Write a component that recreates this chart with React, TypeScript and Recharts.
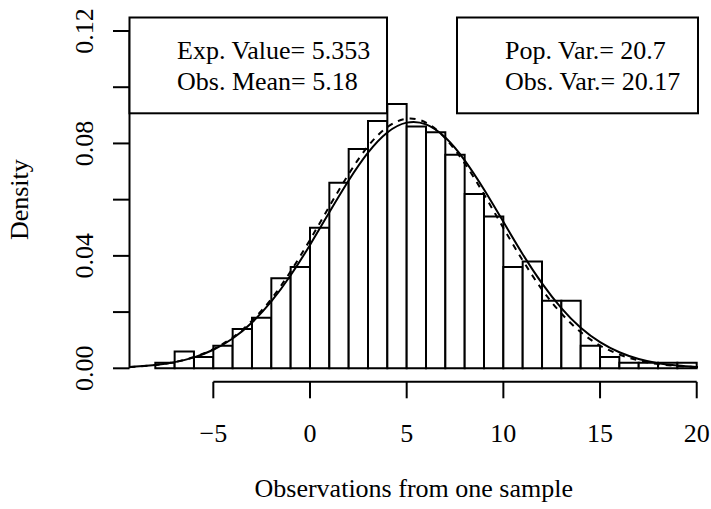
import { ComposedChart, Bar, Line, XAxis, YAxis, ReferenceLine } from 'recharts';

// histogram bins (left edge, width 1) and their densities
const binStarts = [-8, -7, -6, -5, -4, -3, -2, -1, 0, 1, 2, 3, 4, 5, 6, 7, 8, 9, 10, 11, 12, 13, 14, 15, 16, 17, 18, 19];
const densities = [
  0.002, 0.006, 0.004, 0.008, 0.014, 0.018, 0.032, 0.036, 0.05, 0.066, 0.078, 0.088, 0.094, 0.086,
  0.084, 0.076, 0.062, 0.054, 0.036, 0.038, 0.024, 0.024, 0.008, 0.004, 0.002, 0.002, 0.002, 0.002,
];

// curves: solid = expected, dashed = observed
const curveX = [-9.335, -9, -8, -7, -6, -5, -4, -3, -2, -1, 0, 1, 2, 3, 4, 5, 6, 7, 8, 9, 10, 11, 12, 13, 14, 15, 16, 17, 18, 19, 20, 20.066];
const expectedCurve = [
  0.00048, 0.00061, 0.00118, 0.0022, 0.0039, 0.0066, 0.0106, 0.0163, 0.0238, 0.0331, 0.0439, 0.0555,
  0.0668, 0.0767, 0.0839, 0.0874, 0.0868, 0.0821, 0.074, 0.0636, 0.0521, 0.0406, 0.0302, 0.0214, 0.0144,
  0.0093, 0.0057, 0.0033, 0.0018, 0.001, 0.0005, 0.00047,
];
const observedCurve = [
  0.00048, 0.0006, 0.0012, 0.0022, 0.004, 0.0068, 0.011, 0.0169, 0.0247, 0.0345, 0.0457, 0.0576, 0.0691,
  0.079, 0.0858, 0.0888, 0.0874, 0.0818, 0.0729, 0.0619, 0.0499, 0.0384, 0.028, 0.0195, 0.0129, 0.0081,
  0.0049, 0.0028, 0.0015, 0.0008, 0.0004, 0.00036,
];

const xTicks = [-5, 0, 5, 10, 15, 20];
const yTicks = [0, 0.02, 0.04, 0.06, 0.08, 0.1, 0.12];
const yLabelled = [0, 0.04, 0.08, 0.12];
const leftLegend = ['Exp. Value= 5.353', 'Obs. Mean= 5.18'];
const rightLegend = ['Pop. Var.= 20.7', 'Obs. Var.= 20.17'];

const X_DOMAIN: [number, number] = [-9.335, 20.066];
const Y_DOMAIN: [number, number] = [-0.0048, 0.1248];
const FONT = '"Liberation Serif", "Times New Roman", serif';
const FS = 26;

const histData = binStarts.map((s, i) => ({ x: s + 0.5, density: densities[i] }));
const curveData = curveX.map((x, i) => ({ x, expected: expectedCurve[i], observed: observedCurve[i] }));

function XTick({ x, y, payload }: any) {
  const v = payload.value as number;
  return (
    <g>
      <line x1={x} x2={x} y1={y} y2={y + 16.5} stroke="#000" strokeWidth={2} />
      <text x={x} y={y + 60} textAnchor="middle" fontFamily={FONT} fontSize={FS} fill="#000">
        {v < 0 ? '\u2212' + Math.abs(v) : String(v)}
      </text>
    </g>
  );
}

function YTick({ x, y, payload }: any) {
  const v = payload.value as number;
  const show = yLabelled.some((t) => Math.abs(t - v) < 1e-9);
  return (
    <g>
      <line x1={x - 16.5} x2={x} y1={y} y2={y} stroke="#000" strokeWidth={2} />
      {show && (
        <text
          x={x - 36}
          y={y}
          transform={`rotate(-90, ${x - 36}, ${y})`}
          textAnchor="middle"
          fontFamily={FONT}
          fontSize={FS}
          fill="#000"
        >
          {v.toFixed(2)}
        </text>
      )}
    </g>
  );
}

export default function App() {
  return (
    <div style={{ position: 'relative', width: 711, height: 509, background: '#fff' }}>
      <style>{'body{margin:0}'}</style>
      <ComposedChart
        width={711}
        height={509}
        data={histData}
        margin={{ top: 17.5, right: 13, bottom: 0, left: 0 }}
      >
        <XAxis
          dataKey="x"
          type="number"
          domain={X_DOMAIN}
          allowDataOverflow
          ticks={xTicks}
          interval={0}
          height={127.2}
          axisLine={false}
          tickLine={false}
          tickSize={0}
          tickMargin={0}
          tick={<XTick />}
          label={{
            value: 'Observations from one sample',
            content: ({ viewBox }: any) => (
              <text
                x={viewBox.x + viewBox.width / 2}
                y={viewBox.y + 115}
                textAnchor="middle"
                fontFamily={FONT}
                fontSize={FS}
                fill="#000"
              >
                Observations from one sample
              </text>
            ),
          }}
        />
        <XAxis xAxisId="curve" dataKey="x" type="number" domain={X_DOMAIN} allowDataOverflow hide />
        <YAxis
          type="number"
          domain={Y_DOMAIN}
          allowDataOverflow
          ticks={yTicks}
          interval={0}
          width={129.5}
          axisLine={false}
          tickLine={false}
          tickSize={0}
          tickMargin={0}
          tick={<YTick />}
          label={{
            value: 'Density',
            content: ({ viewBox }: any) => {
              const cx = 28;
              const cy = viewBox.y + viewBox.height / 2;
              return (
                <text
                  x={cx}
                  y={cy}
                  transform={`rotate(-90, ${cx}, ${cy})`}
                  textAnchor="middle"
                  fontFamily={FONT}
                  fontSize={FS}
                  fill="#000"
                >
                  Density
                </text>
              );
            },
          }}
        />
        <Bar
          dataKey="density"
          fill="#fff"
          stroke="#000"
          strokeWidth={2}
          barSize={19.3}
          isAnimationActive={false}
        />
        <Line
          xAxisId="curve"
          data={curveData}
          dataKey="expected"
          type="natural"
          stroke="#000"
          strokeWidth={2}
          dot={false}
          isAnimationActive={false}
        />
        <Line
          xAxisId="curve"
          data={curveData}
          dataKey="observed"
          type="natural"
          stroke="#000"
          strokeWidth={2}
          strokeDasharray="6 6"
          dot={false}
          isAnimationActive={false}
        />
        <ReferenceLine
          segment={[{ x: -5, y: Y_DOMAIN[0] }, { x: 20, y: Y_DOMAIN[0] }]}
          stroke="#000"
          strokeWidth={2}
          ifOverflow="visible"
        />
        <ReferenceLine
          segment={[{ x: X_DOMAIN[0], y: 0 }, { x: X_DOMAIN[0], y: 0.12 }]}
          stroke="#000"
          strokeWidth={2}
          ifOverflow="visible"
        />
      </ComposedChart>
      <svg
        width={711}
        height={509}
        style={{ position: 'absolute', left: 0, top: 0, pointerEvents: 'none' }}
      >
        <rect x={129.5} y={17.5} width={257.5} height={95.8} fill="#fff" stroke="#000" strokeWidth={2} />
        {leftLegend.map((t, i) => (
          <text key={t} x={177} y={58.5 + i * 31.5} fontFamily={FONT} fontSize={FS} fill="#000">
            {t}
          </text>
        ))}
        <rect x={457} y={17.5} width={241} height={95.8} fill="#fff" stroke="#000" strokeWidth={2} />
        {rightLegend.map((t, i) => (
          <text key={t} x={505} y={58.5 + i * 31.5} fontFamily={FONT} fontSize={FS} fill="#000">
            {t}
          </text>
        ))}
      </svg>
    </div>
  );
}
